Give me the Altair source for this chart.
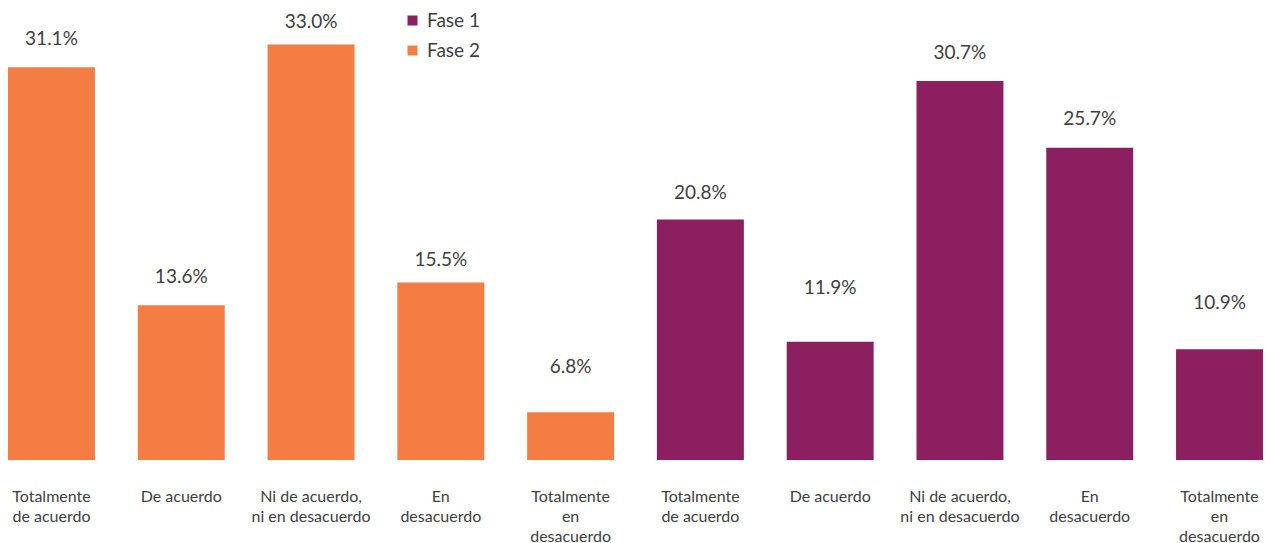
import altair as alt
import pandas as pd

labels = [
    "Totalmente|de acuerdo", "De acuerdo", "Ni de acuerdo,|ni en desacuerdo", "En|desacuerdo", "Totalmente|en|desacuerdo",
    "Totalmente|de acuerdo", "De acuerdo", "Ni de acuerdo,|ni en desacuerdo", "En|desacuerdo", "Totalmente|en|desacuerdo",
]
fases = ["Fase 2"] * 5 + ["Fase 1"] * 5
# printed percentages
values = [31.1, 13.6, 33.0, 15.5, 6.8, 20.8, 11.9, 30.7, 25.7, 10.9]
# bar lengths as drawn in the picture (same % scale)
bar_values = [31.2, 12.3, 33.0, 14.1, 3.8, 19.1, 9.4, 30.1, 24.8, 8.8]
# height at which each printed percentage sits in the picture (same % scale)
label_at = [33.4, 14.5, 34.8, 15.9, 7.4, 21.2, 13.7, 32.3, 27.1, 12.5]

df = pd.DataFrame({"idx": list(range(len(values))), "fase": fases,
                   "bar": bar_values, "lab": label_at})
df["txt"] = [f"{v:.1f}%" for v in values]

arr = "[" + ",".join("'" + l + "'" for l in labels) + "]"
font = "Lato"
grey = "#404040"

x = alt.X("idx:O", title=None, sort=None,
          scale=alt.Scale(paddingInner=0.33, paddingOuter=0),
          axis=alt.Axis(labelAngle=0, ticks=False, domain=False, labelPadding=28,
                        labelExpr=f"split({arr}[datum.value], '|')",
                        labelFontSize=16, labelLineHeight=20, labelBaseline="top",
                        labelColor=grey, labelFont=font, labelAlign="center"))
yscale = alt.Scale(domain=[0, 35.9], nice=False)

bars = alt.Chart(df).mark_bar().encode(
    x=x,
    y=alt.Y("bar:Q", title=None, scale=yscale, axis=None),
    color=alt.Color("fase:N", title=None,
                    scale=alt.Scale(domain=["Fase 1", "Fase 2"], range=["#8B1F5F", "#F47D44"]),
                    legend=alt.Legend(orient="none", legendX=395, legendY=3, symbolType="square",
                                      symbolSize=100, labelFontSize=19, labelFont=font,
                                      labelColor=grey, rowPadding=10, labelOffset=5)),
)
text = alt.Chart(df).mark_text(baseline="middle", fontSize=19, font=font, color=grey).encode(
    x=x, y=alt.Y("lab:Q", scale=yscale, axis=None), text="txt:N")

chart = (bars + text).properties(width=1255, height=452, padding=0).configure_view(stroke=None)
chart.save("out.html", embed_options={"renderer": "svg", "actions": False})
